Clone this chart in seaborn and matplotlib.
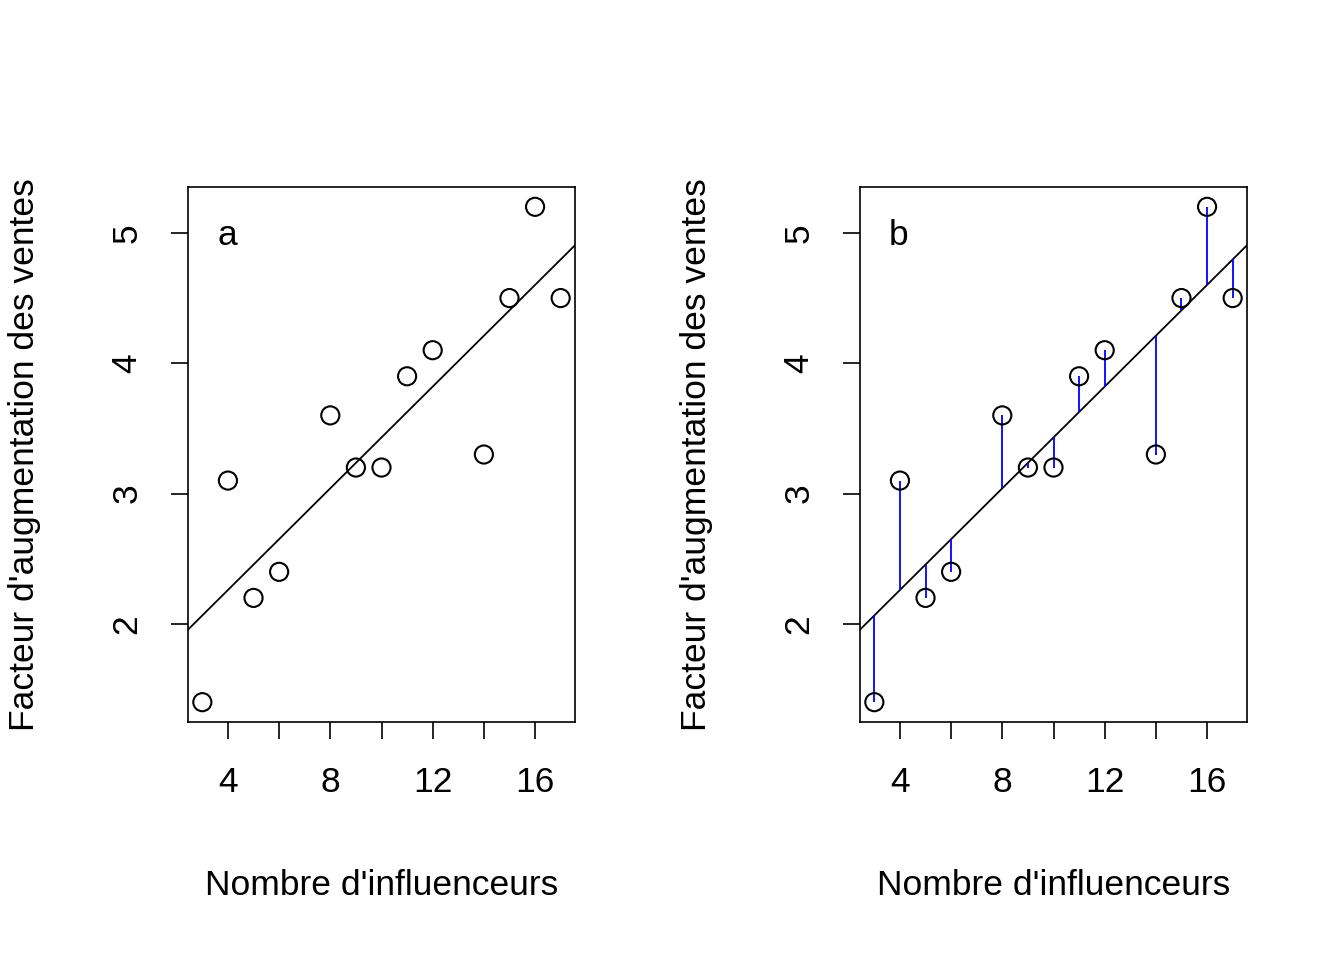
import matplotlib
matplotlib.use("Agg")
import matplotlib.pyplot as plt
import seaborn as sns
import numpy as np
import pandas as pd

influenceurs = [3, 4, 5, 6, 8, 9, 10, 11, 12, 14, 15, 16, 17]
facteur = [1.4, 3.1, 2.2, 2.4, 3.6, 3.2, 3.2, 3.9, 4.1, 3.3, 4.5, 5.2, 4.5]
panel_labels = ["a", "b"]
xticks = [4, 6, 8, 10, 12, 14, 16]
xticklabels = ["4", "", "8", "", "12", "", "16"]
yticks = [2, 3, 4, 5]

sns.set_style("white")
plt.rcParams['font.family'] = ['Liberation Sans', 'DejaVu Sans']
plt.rcParams['text.color'] = 'black'
plt.rcParams['axes.labelcolor'] = 'black'
plt.rcParams['xtick.color'] = 'black'
plt.rcParams['ytick.color'] = 'black'
df = pd.DataFrame({"x": influenceurs, "y": facteur})
slope, intercept = np.polyfit(df.x, df.y, 1)

FS = 25.5
fig = plt.figure(figsize=(13.44, 9.6), dpi=100)
W, H = 1344, 960
for i, (left, lab) in enumerate(zip([188, 860], panel_labels)):
    ax = fig.add_axes([left / W, 1 - 722 / H, 387 / W, 535 / H])
    xlo, xhi = 3 - 0.56, 17 + 0.56
    ylo, yhi = 1.4 - 0.152, 5.2 + 0.152
    ax.set_xlim(xlo, xhi); ax.set_ylim(ylo, yhi)
    xs = np.array([xlo, xhi])
    ax.plot(xs, intercept + slope * xs, color="black", lw=1.3)
    if i == 1:
        pred = intercept + slope * df.x
        ax.vlines(df.x, pred, df.y, color="blue", lw=1.3)
    sns.scatterplot(data=df, x="x", y="y", ax=ax, s=170, facecolor="none",
                    edgecolor="black", linewidth=1.5, zorder=3)
    ax.set_xticks(xticks); ax.set_xticklabels(xticklabels)
    ax.set_yticks(yticks)
    ax.set_yticklabels([str(v) for v in yticks], rotation=90, va="center")
    ax.tick_params(direction="out", length=12, width=1.2, labelsize=FS, pad=20,
                   bottom=True, left=True, color="black", labelcolor="black")
    for s in ax.spines.values():
        s.set_color("black"); s.set_linewidth(1.2)
    ax.set_xlabel("Nombre d'influenceurs", fontsize=FS, labelpad=50)
    ax.set_ylabel("Facteur d'augmentation des ventes", fontsize=FS, labelpad=50)
    ax.text(0.075, 0.91, lab, transform=ax.transAxes, fontsize=FS, va="center")
fig.savefig("out.png", dpi=100, facecolor="white")
